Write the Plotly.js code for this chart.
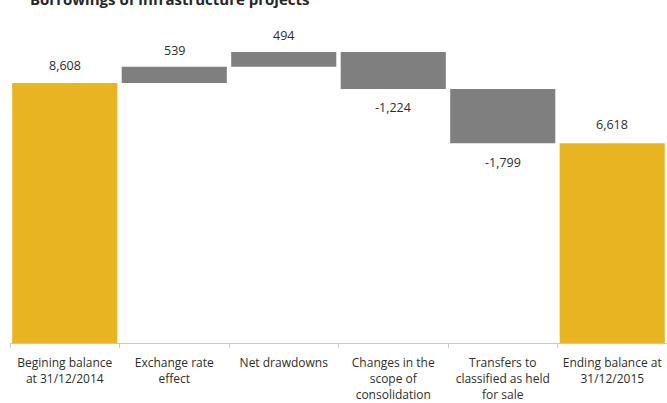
<!DOCTYPE html>
<html>
<head>
<meta charset="utf-8">
<script src="https://cdn.plot.ly/plotly-3.0.1.min.js"></script>
<style>html,body{margin:0;padding:0;background:#fff;}#chart{width:667px;height:403px;}</style>
</head>
<body>
<div id="chart"></div>
<script>
var categories = [
  "Begining balance<br>at 31/12/2014",
  "Exchange rate<br>effect",
  "Net drawdowns",
  "Changes in the<br>scope of<br>consolidation",
  "Transfers to<br>classified as held<br>for sale",
  "Ending balance at<br>31/12/2015"
];
var values = [8608, 539, 494, -1224, -1799, 6618];
var measures = ["absolute", "relative", "relative", "relative", "relative", "total"];
var valueLabels = ["8,608", "539", "494", "-1,224", "-1,799", "6,618"];
var titleText = "Borrowings of infrastructure projects";

var gold = "#E9B422";
var grey = "#7F7F7F";
var labelFont = {family: "Open Sans, sans-serif", size: 12.5, color: "#2e2e2e"};

// label annotations placed via data coordinates
var annotations = [];
var running = 0;
for (var i = 0; i < values.length; i++) {
  var y, shift;
  if (measures[i] === "absolute") { running = values[i]; y = running; shift = 18; }
  else if (measures[i] === "total") { y = running; shift = 19; }
  else {
    running += values[i];
    if (values[i] >= 0) { y = running; shift = 16; }
    else { y = running; shift = -19; }
  }
  annotations.push({
    x: categories[i], y: y, xref: "x", yref: "y",
    text: valueLabels[i], showarrow: false,
    yanchor: "middle", yshift: shift,
    font: labelFont
  });
}

var trace = {
  type: "waterfall",
  x: categories,
  y: values,
  measure: measures,
  text: valueLabels,
  textposition: "none",
  hoverinfo: "skip",
  connector: {visible: false},
  increasing: {marker: {color: grey}},
  decreasing: {marker: {color: grey}},
  totals: {marker: {color: gold}},
  cliponaxis: false
};

var layout = {
  width: 667, height: 403,
  margin: {l: 10, r: 0, t: 26, b: 60, pad: 0},
  paper_bgcolor: "#ffffff",
  plot_bgcolor: "#ffffff",
  showlegend: false,
  waterfallgap: 0.04,
  title: {
    text: "<b>" + titleText + "</b>",
    font: {family: "Open Sans, sans-serif", size: 15, color: "#262626"},
    xref: "container", x: 30 / 667, xanchor: "left",
    yref: "container", y: 1, yanchor: "middle"
  },
  xaxis: {
    type: "category",
    showline: true, linecolor: "#c8c8c8", linewidth: 1,
    ticks: "outside", tickson: "boundaries", ticklen: 4, tickcolor: "#c8c8c8",
    ticklabelstandoff: 9,
    tickfont: {family: "Open Sans, sans-serif", size: 12, color: "#2e2e2e"},
    showgrid: false, zeroline: false, fixedrange: true
  },
  yaxis: {
    range: [0, 10500],
    visible: false, showgrid: false, zeroline: false, fixedrange: true
  },
  annotations: annotations
};

Plotly.newPlot("chart", [trace], layout, {displayModeBar: false, staticPlot: true});
</script>
</body>
</html>
